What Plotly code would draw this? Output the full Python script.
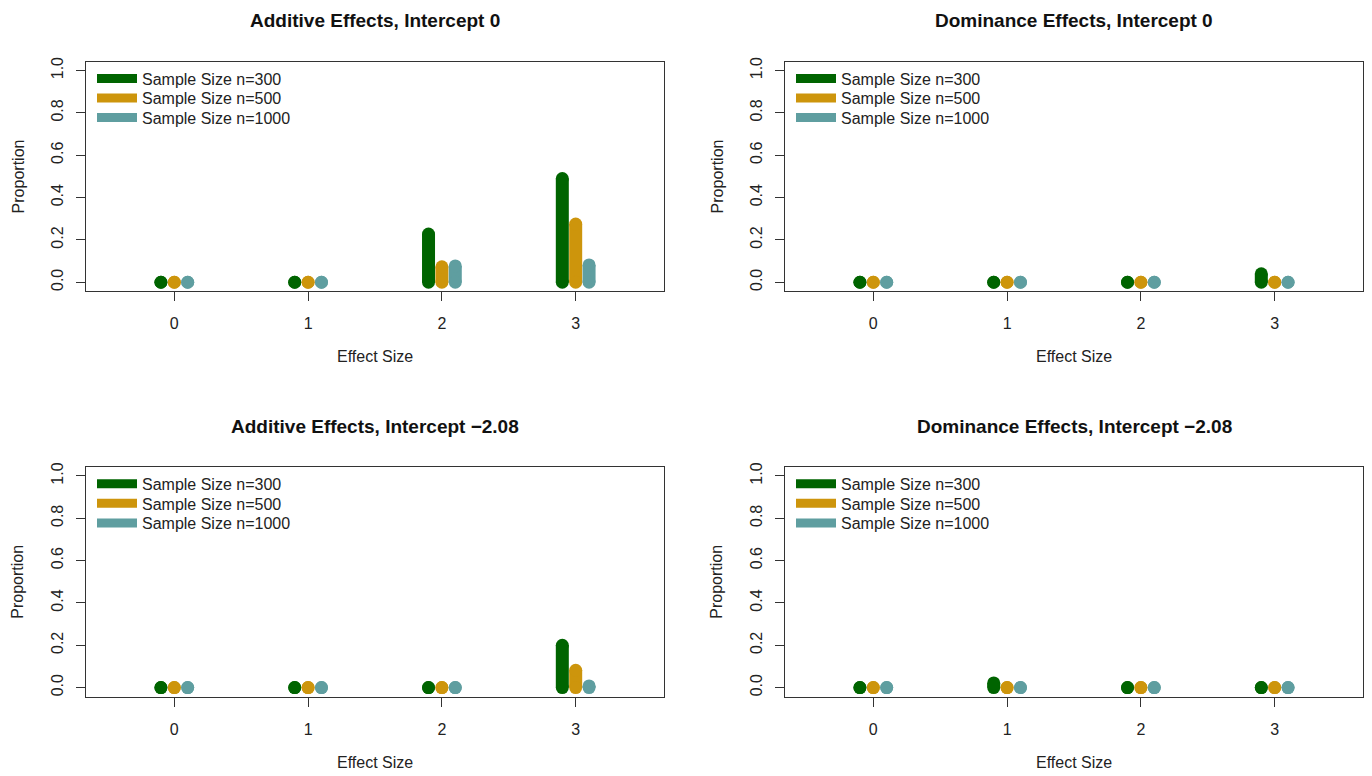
import plotly.graph_objects as go

effect_sizes = [0, 1, 2, 3]
series_names = ["Sample Size n=300", "Sample Size n=500", "Sample Size n=1000"]
series_colors = ["#006400", "#CD950C", "#5F9EA0"]
offsets = [-0.1, 0.0, 0.1]

panel_titles = [
    "Additive Effects, Intercept 0",
    "Dominance Effects, Intercept 0",
    "Additive Effects, Intercept \u22122.08",
    "Dominance Effects, Intercept \u22122.08",
]

# proportions per panel: [n=300, n=500, n=1000], each over effect sizes 0..3
add_int0_n300 = [0.0, 0.0, 0.228, 0.49]
add_int0_n500 = [0.0, 0.0, 0.073, 0.275]
add_int0_n1000 = [0.0, 0.0, 0.077, 0.082]

dom_int0_n300 = [0.0, 0.0, 0.0, 0.04]
dom_int0_n500 = [0.0, 0.0, 0.0, 0.0]
dom_int0_n1000 = [0.0, 0.0, 0.0, 0.0]

add_intm_n300 = [0.0, 0.0, 0.0, 0.2]
add_intm_n500 = [0.0, 0.0, 0.0, 0.082]
add_intm_n1000 = [0.0, 0.0, 0.0, 0.008]

dom_intm_n300 = [0.0, 0.022, 0.0, 0.0]
dom_intm_n500 = [0.0, 0.0, 0.0, 0.0]
dom_intm_n1000 = [0.0, 0.0, 0.0, 0.0]

panels = [
    [add_int0_n300, add_int0_n500, add_int0_n1000],
    [dom_int0_n300, dom_int0_n500, dom_int0_n1000],
    [add_intm_n300, add_intm_n500, add_intm_n1000],
    [dom_intm_n300, dom_intm_n500, dom_intm_n1000],
]

y_ticks = [0.0, 0.2, 0.4, 0.6, 0.8, 1.0]

W, H = 1372, 776
FONT = "Liberation Sans, Arial, sans-serif"
FS = 16
LW = 13  # bar line width in px


def px_x(px):
    return px / W


def px_y(py):
    return 1 - py / H


# panel geometry (page pixels)
x_doms_px = [(86, 664), (785, 1363)]
y_doms_px = [(57, 288), (465, 696)]

fig = go.Figure()
layout = dict(
    width=W, height=H, autosize=False,
    margin=dict(l=0, r=0, t=0, b=0),
    paper_bgcolor="white", plot_bgcolor="white",
    font=dict(family=FONT, size=FS, color="#222"),
    showlegend=True,
)
annotations = []

for p in range(4):
    col = p % 2
    row = p // 2
    xa = "x" if p == 0 else f"x{p+1}"
    ya = "y" if p == 0 else f"y{p+1}"
    x0, x1 = x_doms_px[col]
    yt, yb = y_doms_px[row]
    xd = [px_x(x0), px_x(x1)]
    yd = [px_y(yb), px_y(yt)]

    for s in range(3):
        vals = panels[p][s]
        xs, ys = [], []
        mx, my = [], []
        for e, v in zip(effect_sizes, vals):
            xx = e + offsets[s]
            xs += [xx, xx, None]
            ys += [0, v, None]
            mx += [xx, xx]
            my += [0, v]
        fig.add_trace(go.Scatter(
            x=xs, y=ys, mode="lines", xaxis=xa, yaxis=ya,
            line=dict(color=series_colors[s], width=LW),
            showlegend=False, hoverinfo="skip", cliponaxis=False,
        ))
        fig.add_trace(go.Scatter(
            x=mx, y=my, mode="markers", xaxis=xa, yaxis=ya,
            marker=dict(color=series_colors[s], size=LW, line=dict(width=0)),
            showlegend=False, cliponaxis=False,
        ))
        # legend-only entry, one legend per entry for exact row spacing
        lid = p * 3 + s + 1
        lg = "legend" if lid == 1 else f"legend{lid}"
        fig.add_trace(go.Scatter(
            x=[None], y=[None], mode="lines", xaxis=xa, yaxis=ya,
            line=dict(color=series_colors[s], width=9),
            name=series_names[s], legend=lg, showlegend=True,
        ))
        layout[lg] = dict(
            x=px_x(x0 + 6), y=px_y(yt + 17 + 19.7 * s),
            xanchor="left", yanchor="middle",
            bgcolor="rgba(0,0,0,0)", borderwidth=0,
            font=dict(family=FONT, size=FS, color="#222"),
            itemwidth=40,
        )

    axis_common = dict(
        showline=True, mirror=True, linecolor="#333", linewidth=1,
        showgrid=False, zeroline=False, ticks="outside", ticklen=9,
        tickcolor="#333", tickwidth=1,
        tickfont=dict(family=FONT, size=FS, color="#222"),
    )
    layout["xaxis" if p == 0 else f"xaxis{p+1}"] = dict(
        axis_common, domain=xd, range=[-0.66, 3.66],
        tickvals=effect_sizes, ticktext=[str(e) for e in effect_sizes],
        anchor=ya, ticklabelstandoff=9,
    )
    layout["yaxis" if p == 0 else f"yaxis{p+1}"] = dict(
        axis_common, domain=yd, range=[-0.042, 1.042],
        tickvals=y_ticks, ticktext=[f"{t:.1f}" for t in y_ticks],
        tickangle=-90, anchor=xa, ticklabelstandoff=7,
    )
    cx = px_x((x0 + x1) / 2)
    annotations.append(dict(
        text=f"<b>{panel_titles[p]}</b>", x=cx, y=px_y(yt - 41),
        xref="paper", yref="paper", xanchor="center", yanchor="middle",
        showarrow=False, font=dict(family=FONT, size=19, color="#111"),
    ))
    annotations.append(dict(
        text="Effect Size", x=cx, y=px_y(yb + 66),
        xref="paper", yref="paper", xanchor="center", yanchor="middle",
        showarrow=False, font=dict(family=FONT, size=FS, color="#222"),
    ))
    annotations.append(dict(
        text="Proportion", x=px_x(x0 - 68), y=px_y((yt + yb) / 2),
        xref="paper", yref="paper", xanchor="center", yanchor="middle",
        textangle=-90, showarrow=False,
        font=dict(family=FONT, size=FS, color="#222"),
    ))

layout["annotations"] = annotations
fig.update_layout(**layout)
fig.write_html(
    "out.html",
    config={"displayModeBar": False},
    post_script="document.body.style.margin='0';document.body.style.overflow='hidden';",
)
